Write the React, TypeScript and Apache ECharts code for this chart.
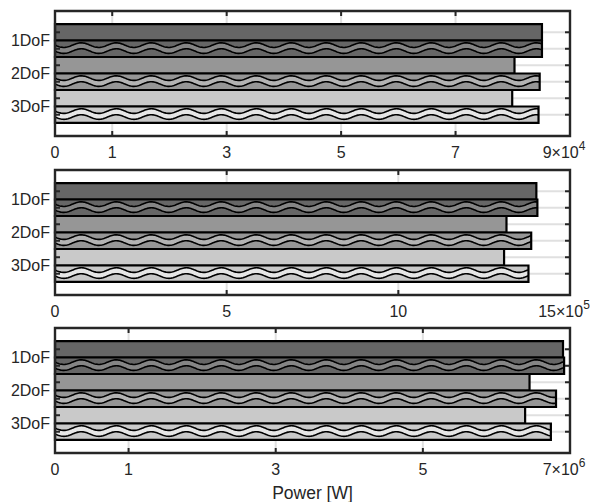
import React, { useEffect, useRef } from "react";
import * as echarts from "echarts";

// ---------- data ----------
const dofLabels = ["1DoF", "2DoF", "3DoF"];

// Panel 1 (W), axis ×10^4
const p1Plain = [85100, 80300, 79900];
const p1Wavy = [85100, 84700, 84500];
const p1Ticks = [0, 10000, 30000, 50000, 70000, 90000];
const p1Exp = 4;

// Panel 2 (W), axis ×10^5
const p2Plain = [1402000, 1315000, 1308000];
const p2Wavy = [1405000, 1387000, 1379000];
const p2Ticks = [0, 500000, 1000000, 1500000];
const p2Exp = 5;

// Panel 3 (W), axis ×10^6
const p3Plain = [6905000, 6450000, 6390000];
const p3Wavy = [6920000, 6810000, 6740000];
const p3Ticks = [0, 1000000, 3000000, 5000000, 7000000];
const p3Exp = 6;

const xAxisTitle = "Power [W]";

// ---------- style ----------
const barColors = ["#666666", "#969696", "#c9c9c9"];
const bandColors = ["#858585", "#b3b3b3", "#e6e6e6"];
const axisColor = "#262626";
const gridColor = "#e0e0e0";
const FONT = "'Liberation Sans', Arial, Helvetica, sans-serif";

const Y_MIN = -1.29;
const Y_MAX = 6.29;
const barSlots = [0, 1, 2, 3, 4, 5];
const labelSlots = [0.5, 2.5, 4.5];
const TICK_LEN = 5;

const panels = [
  { plain: p1Plain, wavy: p1Wavy, ticks: p1Ticks, exp: p1Exp, top: 11 },
  { plain: p2Plain, wavy: p2Wavy, ticks: p2Ticks, exp: p2Exp, top: 170 },
  { plain: p3Plain, wavy: p3Wavy, ticks: p3Ticks, exp: p3Exp, top: 328 },
];

function renderBar(params: any, api: any) {
  const v = api.value(0);
  const i = api.value(1);
  const wavy = api.value(2);
  const c = api.value(3);
  const a = api.coord([0, i - 0.5]);
  const b = api.coord([v, i + 0.5]);
  const x0 = a[0];
  const y0 = Math.min(a[1], b[1]);
  const w = b[0] - a[0];
  const h = Math.abs(b[1] - a[1]);
  const children: any[] = [
    { type: "rect", shape: { x: x0, y: y0, width: w, height: h }, style: { fill: barColors[c] } },
  ];
  if (wavy) {
    const amp = 2.3;
    const period = 35;
    const top: number[][] = [];
    const bot: number[][] = [];
    for (let x = x0; x <= x0 + w + 0.001; x += 1) {
      const s = amp * Math.sin((2 * Math.PI * (x - x0)) / period);
      top.push([x, y0 + h * 0.28 + s]);
      bot.push([x, y0 + h * 0.64 + s]);
    }
    children.push({
      type: "polygon",
      shape: { points: top.concat(bot.slice().reverse()) },
      style: { fill: bandColors[c] },
    });
    children.push({ type: "polyline", shape: { points: top }, style: { fill: "none", stroke: "#000", lineWidth: 1.6 } });
    children.push({ type: "polyline", shape: { points: bot }, style: { fill: "none", stroke: "#000", lineWidth: 1.6 } });
  }
  children.push({
    type: "rect",
    shape: { x: x0, y: y0, width: w, height: h },
    style: { fill: "none", stroke: "#000", lineWidth: 2.2 },
  });
  return { type: "group", children };
}

// light grid lines behind the bars
function renderGridLine(params: any, api: any) {
  const cs = params.coordSys;
  const kind = api.value(0);
  const val = api.value(1);
  if (kind === 0) {
    const x = api.coord([val, 0])[0];
    return { type: "line", shape: { x1: x, y1: cs.y, x2: x, y2: cs.y + cs.height }, style: { stroke: gridColor, lineWidth: 2 } };
  }
  const y = api.coord([0, val])[1];
  return { type: "line", shape: { x1: cs.x, y1: y, x2: cs.x + cs.width, y2: y }, style: { stroke: gridColor, lineWidth: 2 } };
}

// frame and inward tick marks on top of the bars
function renderFrame(params: any, api: any) {
  const cs = params.coordSys;
  const kind = api.value(0);
  const val = api.value(1);
  const st = { stroke: axisColor, lineWidth: 2 };
  if (kind === 0) {
    const x = api.coord([val, 0])[0];
    return {
      type: "group",
      children: [
        { type: "line", shape: { x1: x, y1: cs.y, x2: x, y2: cs.y + TICK_LEN }, style: st },
        { type: "line", shape: { x1: x, y1: cs.y + cs.height, x2: x, y2: cs.y + cs.height - TICK_LEN }, style: st },
      ],
    };
  }
  if (kind === 1) {
    const y = api.coord([0, val])[1];
    return {
      type: "group",
      children: [
        { type: "line", shape: { x1: cs.x, y1: y, x2: cs.x + TICK_LEN, y2: y }, style: st },
        { type: "line", shape: { x1: cs.x + cs.width, y1: y, x2: cs.x + cs.width - TICK_LEN, y2: y }, style: st },
      ],
    };
  }
  return {
    type: "rect",
    shape: { x: cs.x, y: cs.y, width: cs.width, height: cs.height },
    style: { fill: "none", stroke: axisColor, lineWidth: 2.4 },
  };
}

export default function App() {
  const ref = useRef<HTMLDivElement>(null);
  useEffect(() => {
    document.body.style.margin = "0";
    if (!ref.current) return;
    const chart = echarts.init(ref.current, null, { renderer: "svg" });

    const grids: any[] = [];
    const xAxes: any[] = [];
    const yAxes: any[] = [];
    const series: any[] = [];

    panels.forEach((p, k) => {
      const max = p.ticks[p.ticks.length - 1];
      const inner = p.ticks.filter((t) => t > 0 && t < max);
      const scale = Math.pow(10, p.exp);
      grids.push({
        left: 55,
        width: 515,
        top: p.top,
        height: 125,
        show: false,
        containLabel: false,
        outerBoundsMode: "none",
      });
      xAxes.push({
        gridIndex: k,
        type: "value",
        position: "bottom",
        min: 0,
        max,
        axisLine: { show: false },
        splitLine: { show: false },
        axisTick: { show: false },
        axisLabel: {
          customValues: p.ticks,
          color: axisColor,
          fontFamily: FONT,
          fontSize: 16,
          lineHeight: 24,
          margin: 4,
          hideOverlap: false,
          formatter: (val: number) => {
            const n = Math.round(val / scale);
            return val === max ? `${n}×10{sup|${p.exp}}` : `${n}`;
          },
          rich: {
            sup: {
              fontSize: 12,
              lineHeight: 12,
              verticalAlign: "top",
              fontFamily: FONT,
              color: axisColor,
              padding: [0, 12, 0, 0],
            },
          },
        },
      });
      yAxes.push({
        gridIndex: k,
        type: "value",
        inverse: true,
        position: "left",
        min: Y_MIN,
        max: Y_MAX,
        axisLine: { show: false },
        splitLine: { show: false },
        axisTick: { show: false },
        axisLabel: {
          customValues: labelSlots,
          color: axisColor,
          fontFamily: FONT,
          fontSize: 16,
          margin: 5,
          formatter: (val: number) => dofLabels[Math.round((val - 0.5) / 2)] ?? "",
        },
      });

      const gridData: number[][] = [];
      inner.forEach((t) => gridData.push([0, t]));
      barSlots.forEach((s) => gridData.push([1, s]));
      series.push({
        type: "custom",
        xAxisIndex: k,
        yAxisIndex: k,
        z: 1,
        silent: true,
        clip: false,
        renderItem: renderGridLine,
        dimensions: ["kind", "val"],
        encode: { x: -1, y: -1 },
        data: gridData,
      });

      const barData: number[][] = [];
      dofLabels.forEach((_, c) => {
        barData.push([p.plain[c], 2 * c, 0, c]);
        barData.push([p.wavy[c], 2 * c + 1, 1, c]);
      });
      series.push({
        type: "custom",
        xAxisIndex: k,
        yAxisIndex: k,
        z: 3,
        clip: false,
        renderItem: renderBar,
        dimensions: ["value", "slot", "wavy", "dof"],
        encode: { x: 0, y: 1 },
        data: barData,
      });

      const frameData: number[][] = [[2, 0]];
      inner.forEach((t) => frameData.push([0, t]));
      barSlots.forEach((s) => frameData.push([1, s]));
      series.push({
        type: "custom",
        xAxisIndex: k,
        yAxisIndex: k,
        z: 5,
        silent: true,
        clip: false,
        renderItem: renderFrame,
        dimensions: ["kind", "val"],
        encode: { x: -1, y: -1 },
        data: frameData,
      });
    });

    chart.setOption({
      animation: false,
      backgroundColor: "#ffffff",
      grid: grids,
      xAxis: xAxes,
      yAxis: yAxes,
      series,
      graphic: [
        {
          type: "text",
          x: 312.5,
          y: 493,
          style: {
            text: xAxisTitle,
            fontFamily: FONT,
            fontSize: 17.5,
            fill: axisColor,
            align: "center",
            verticalAlign: "middle",
          },
        },
      ],
    });
    return () => chart.dispose();
  }, []);
  return <div ref={ref} style={{ width: 597, height: 502 }} />;
}
